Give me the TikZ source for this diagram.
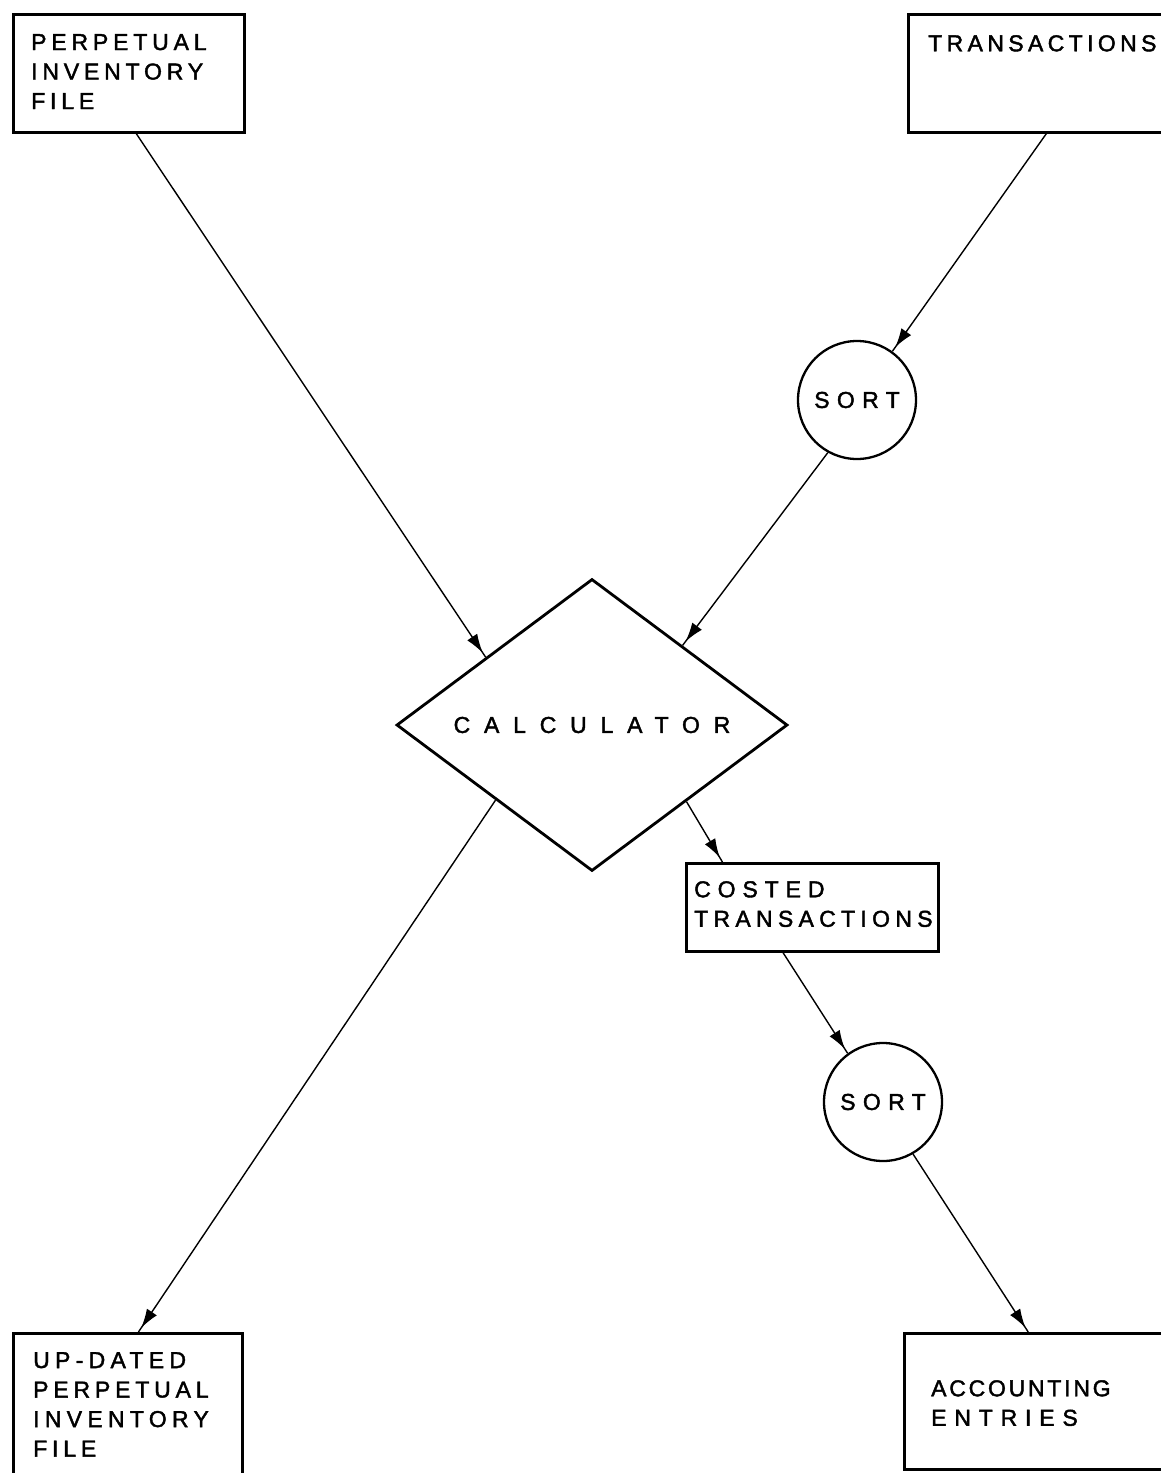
\documentclass[tikz,border=0pt]{standalone}
\usepackage{fontspec}
\newfontfamily\hand[FakeBold=1.8]{Liberation Sans}
\usetikzlibrary{shapes.geometric,arrows.meta,decorations.markings,calc}
\newcommand{\lsp}[2]{{\addfontfeature{LetterSpace=#1}#2}}
\begin{document}
\begin{tikzpicture}[x=1pt,y=-1pt,
  boxnode/.style={draw,line width=2.6pt,rectangle,anchor=north west,inner sep=0pt},
  txt/.style={anchor=north west,inner sep=0pt,align=left,font=\hand\fontsize{23}{29.5}\selectfont},
  sortnode/.style={circle,draw,line width=2.3pt,minimum size=118pt,inner sep=0pt,font=\hand\fontsize{23}{29}\selectfont},
  flow/.style={line width=1.4pt,postaction={decorate},
    decoration={markings,mark=at position -5pt with {\arrow{Latex[length=19pt,width=12pt]}}}}]
\useasboundingbox (0,0) rectangle (1161,1473);
\clip (0,0) rectangle (1161,1473);
\fill[white] (0,0) rectangle (1161,1473);

% boxes
\node[boxnode,minimum width=231pt,minimum height=118pt] (tl) at (12,13) {};
\node[txt] (tltxt) at (31,34) {\lsp{21}{PERPETUAL}\\\lsp{21}{INVENTORY}\\\lsp{21}{FILE}};

\node[boxnode,minimum width=268pt,minimum height=118pt] (tr) at (907,13) {};
\node[txt] (trtxt) at (928,35) {\lsp{19}{TRANSACTIONS}};

\node[boxnode,minimum width=252pt,minimum height=88pt] (ct) at (685,862) {};
\node[txt] (cttxt) at (694,881) {\lsp{30}{COSTED}\\\lsp{23}{TRANSACTIONS}};

\node[boxnode,minimum width=229pt,minimum height=160pt] (bl) at (12,1332) {};
\node[txt] (bltxt) at (33,1352) {\lsp{23}{UP-DATED}\\\lsp{21}{PERPETUAL}\\\lsp{23}{INVENTORY}\\\lsp{21}{FILE}};

\node[boxnode,minimum width=272pt,minimum height=136pt] (br) at (903,1332) {};
\node[txt] (brtxt) at (931,1380) {\lsp{12}{ACCOUNTING}\\\lsp{34}{ENTRIES}};

% diamond
\node[diamond,draw,line width=2.8pt,minimum width=391pt,minimum height=292pt,aspect=1.35,inner sep=0pt,
  font=\hand\fontsize{23}{29}\selectfont] (dia) at (592,725) {\lsp{60}{CALCULATOR}};

% sorts
\node[sortnode] (s1) at (857,400) {\lsp{32}{SORT}};
\node[sortnode] (s2) at (883,1102) {\lsp{32}{SORT}};

% connectors
\draw[flow] ($(tl.south west)!0.532!(tl.south east)$) -- ($(dia.west)!0.46!(dia.north)$);
\draw[flow] ($(tr.south west)!0.515!(tr.south east)$) -- (s1.54);
\draw[flow] (s1.241) -- ($(dia.east)!0.54!(dia.north)$);
\draw[flow] ($(dia.west)!0.51!(dia.south)$) -- ($(bl.north west)!0.546!(bl.north east)$);
\draw[flow] ($(dia.east)!0.52!(dia.south)$) -- ($(ct.north west)!0.147!(ct.north east)$);
\draw[flow] ($(ct.south west)!0.385!(ct.south east)$) -- (s2.126);
\draw[flow] (s2.-60) -- ($(br.north west)!0.456!(br.north east)$);
\end{tikzpicture}
\end{document}
